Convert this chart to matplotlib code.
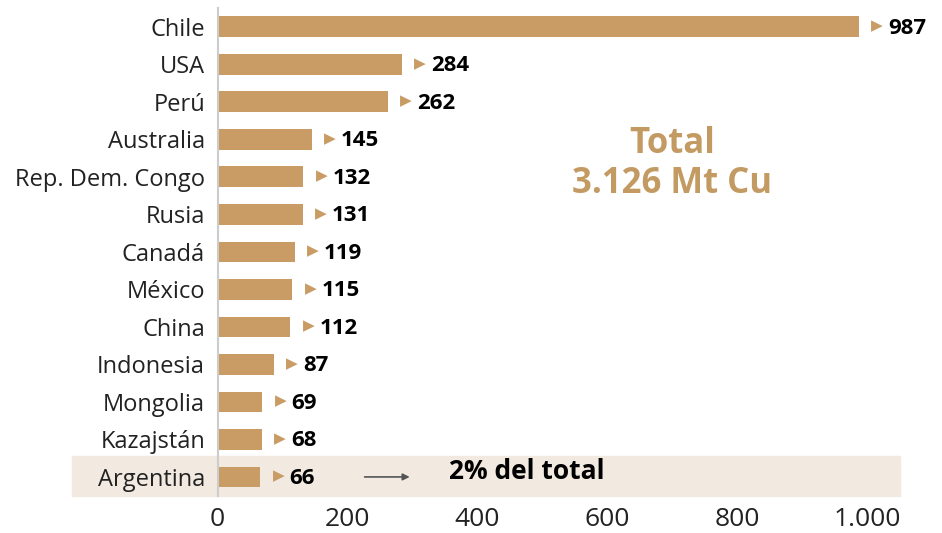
import matplotlib.pyplot as plt

plt.rcParams['font.family'] = ['Open Sans', 'DejaVu Sans']

# Copper mine production by country (kt Cu)
countries = ["Chile", "USA", "Perú", "Australia", "Rep. Dem. Congo", "Rusia",
             "Canadá", "México", "China", "Indonesia", "Mongolia", "Kazajstán",
             "Argentina"]
values = [987, 284, 262, 145, 132, 131, 119, 115, 112, 87, 69, 68, 66]
xticks = [0, 200, 400, 600, 800, 1000]
xtick_labels = ["0", "200", "400", "600", "800", "1.000"]

bar_color = "#c89c64"
band_color = "#f2e9e0"
text_tan = "#c49a63"

fig = plt.figure(figsize=(9.42, 5.33), dpi=100)
ax = fig.add_axes([0.231, 0.07, 0.724, 0.915])

y = list(range(len(countries)))
ax.barh(y, values, height=0.55, color=bar_color, zorder=3)
ax.set_ylim(len(countries) - 0.5, -0.5)
ax.set_xlim(0, 1050)

# highlight band for Argentina (extends into label area)
arg = len(countries) - 1
band = plt.Rectangle((-0.214, arg - 0.55), 1.214, 1.05, transform=ax.get_yaxis_transform(),
                     color=band_color, zorder=0, clip_on=False)
ax.add_patch(band)

# value labels with small triangle
for yi, v in zip(y, values):
    ax.annotate("\u25B6", (v, yi), xytext=(13, 0), textcoords="offset points",
                ha="center", va="center", fontsize=11, color=bar_color, zorder=4)
    ax.annotate(str(v), (v, yi), xytext=(21, -1), textcoords="offset points",
                ha="left", va="center", fontsize=16, fontweight="bold", color="black")

# arrow + note for Argentina
ax.annotate("", xy=(300, arg), xytext=(222, arg),
            arrowprops=dict(arrowstyle="-|>", color="#555555", lw=1.2, mutation_scale=10))
ax.text(357, arg - 0.15, "2% del total", ha="left", va="center", fontsize=19,
        fontweight="bold", color="black")

# total annotation
ax.text(700, 3.65, "Total\n3.126 Mt Cu", ha="center", va="center", fontsize=25,
        fontweight="bold", color=text_tan, linespacing=1.15)

ax.set_yticks(y)
ax.set_yticklabels(countries, fontsize=17, color="#222222")
ax.set_xticks(xticks)
ax.set_xticklabels(xtick_labels, fontsize=19, color="#222222")
ax.tick_params(axis="both", length=0)
ax.tick_params(axis="y", pad=9)
ax.tick_params(axis="x", pad=8)

for s in ["top", "right", "bottom"]:
    ax.spines[s].set_visible(False)
ax.spines["left"].set_color("#cccccc")
ax.spines["left"].set_linewidth(1.5)
ax.spines["left"].set_zorder(5)

fig.savefig("out.png", dpi=100, facecolor="white")
